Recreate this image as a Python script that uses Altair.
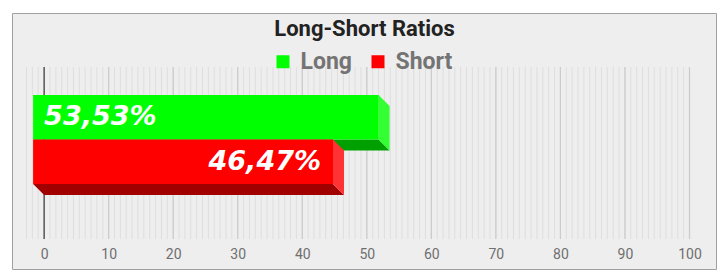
import altair as alt
import pandas as pd

# ---- data ----
series = ["Long", "Short"]
values = [53.53, 46.47]
value_labels = ["53,53%", "46,47%"]
front_colors = ["#00ff00", "#ff0000"]
side_colors = ["#33ff33", "#ff3333"]
bottom_colors = ["#00a000", "#a00000"]
tick_values = [0, 10, 20, 30, 40, 50, 60, 70, 80, 90, 100]
chart_title = "Long-Short Ratios"

# ---- layout ----
PLOT_W, PLOT_H = 663, 172
PAD_L, PAD_T = 26.5, 67
X_MIN, X_MAX = -30 / 11, 100
px_per_unit = PLOT_W / (X_MAX - X_MIN)
DEPTH = 11          # 3D depth in px
SLOT = 44.5         # bar thickness in px
TOP_GAP = 39        # px above first bar (back plane)
dxu = DEPTH / px_per_unit
dyu = DEPTH / SLOT
y_domain = [-TOP_GAP / SLOT, (PLOT_H - TOP_GAP) / SLOT]

# back-wall stripe pattern: 11 stripes per 10 units
stripe_positions = [k * 10 / 11 for k in range(-3, 111)]

xscale = alt.Scale(domain=[X_MIN, X_MAX], nice=False, zero=False)
yscale = alt.Scale(domain=y_domain, reverse=True, nice=False, zero=False)
x_axis = alt.Axis(values=tick_values, title=None, grid=False, domain=False,
                  ticks=False, tickSize=0, labelPadding=19.5, labelFlush=False,
                  labelBaseline="alphabetic", labelFont="Roboto",
                  labelFontSize=14, labelColor="#6e6e6e", zindex=1, format="d")

front_rows, face_rows, label_rows = [], [], []
for i, (s, v) in enumerate(zip(series, values)):
    top_b, bot_b = i, i + 1
    top_f, bot_f = i - dyu, i + 1 - dyu
    x0b, x1b = 0, v
    x0f, x1f = -dxu, v - dxu
    front_rows.append(dict(series=s, x=x0f, x2=x1f, y=top_f, y2=bot_f))
    face_rows += [
        dict(series=s, face="side", x=x1f, y=top_f, y2=bot_f),
        dict(series=s, face="side", x=x1b, y=top_b, y2=bot_b),
        dict(series=s, face="bottom", x=x0f, y=bot_f, y2=bot_f),
        dict(series=s, face="bottom", x=x0b, y=bot_f, y2=bot_b),
        dict(series=s, face="bottom", x=x1f, y=bot_f, y2=bot_b),
        dict(series=s, face="bottom", x=x1b, y=bot_b, y2=bot_b),
    ]
    label_rows.append(dict(series=s, text=value_labels[i], xs=x0f, xe=x1f,
                           yc=(top_f + bot_f) / 2))

front_df = pd.DataFrame(front_rows)
face_df = pd.DataFrame(face_rows)
label_df = pd.DataFrame(label_rows)

panel = alt.Chart(pd.DataFrame({"p": [0]})).mark_rect(
    fill="#eeeeee", stroke="#a0a0a0", strokeWidth=1
).encode(
    x=alt.value(12.5 - PAD_L), x2=alt.value(716.5 - PAD_L),
    y=alt.value(13.5 - PAD_T), y2=alt.value(269.5 - PAD_T),
)

stripes = alt.Chart(pd.DataFrame({"v": stripe_positions})).mark_rule(
    color="#dedede", strokeWidth=1
).encode(x=alt.X("v:Q", scale=xscale, axis=x_axis))

majors = alt.Chart(pd.DataFrame({"v": tick_values[1:]})).mark_rule(
    color="#cbcbcb", strokeWidth=1.2
).encode(x=alt.X("v:Q", scale=xscale, axis=x_axis))

zero_line = alt.Chart(pd.DataFrame({"v": tick_values[:1]})).mark_rule(
    color="#111111", strokeWidth=1
).encode(x=alt.X("v:Q", scale=xscale, axis=x_axis))

legend = alt.Legend(
    orient="none", legendX=245, legendY=-17, direction="horizontal", title=None,
    symbolType="square", symbolSize=169, symbolStrokeWidth=0, symbolOpacity=1,
    labelFont="Roboto", labelFontSize=23, labelFontWeight="bold",
    labelColor="#747474", labelOffset=6, columnPadding=14, padding=0,
)


def face_layer(s, face, color):
    return alt.Chart(face_df).transform_filter(
        (alt.datum.series == s) & (alt.datum.face == face)
    ).mark_area(orient="vertical", interpolate="linear", color=color).encode(
        x=alt.X("x:Q", scale=xscale, axis=x_axis),
        y=alt.Y("y:Q", scale=yscale, axis=None, stack=None),
        y2=alt.Y2("y2:Q"),
    )


layers = [panel, stripes, majors, zero_line]
for i, s in enumerate(series):
    front = alt.Chart(front_df).transform_filter(alt.datum.series == s).mark_rect().encode(
        x=alt.X("x:Q", scale=xscale, axis=x_axis),
        x2="x2:Q",
        y=alt.Y("y:Q", scale=yscale, axis=None),
        y2="y2:Q",
        color=alt.Color("series:N", scale=alt.Scale(domain=series, range=front_colors),
                        legend=legend),
    )
    layers += [face_layer(s, "bottom", bottom_colors[i]),
               face_layer(s, "side", side_colors[i]),
               front]

text_style = dict(baseline="middle", font="DejaVu Sans", fontSize=27,
                  fontWeight="bold", fontStyle="italic", color="white")
label_start = alt.Chart(label_df).transform_filter(alt.datum.series == series[0]).mark_text(
    align="left", dx=11, **text_style
).encode(
    x=alt.X("xs:Q", scale=xscale, axis=x_axis),
    y=alt.Y("yc:Q", scale=yscale, axis=None),
    text="text:N",
)
label_end = alt.Chart(label_df).transform_filter(alt.datum.series == series[1]).mark_text(
    align="right", dx=-12, **text_style
).encode(
    x=alt.X("xe:Q", scale=xscale, axis=x_axis),
    y=alt.Y("yc:Q", scale=yscale, axis=None),
    text="text:N",
)
layers += [label_start, label_end]

chart = alt.layer(*layers).properties(
    width=PLOT_W, height=PLOT_H,
    title=alt.TitleParams(chart_title, font="Roboto", fontSize=22, fontWeight="bold",
                          color="#222222", anchor="middle", frame="group",
                          baseline="alphabetic", offset=-45, dx=6.5),
    padding={"left": PAD_L, "top": PAD_T, "right": 722 - PAD_L - PLOT_W,
             "bottom": 278 - PAD_T - PLOT_H},
    autosize="none",
    background="white",
).configure_view(strokeWidth=0)

chart.save("out.html", embed_options={"renderer": "svg", "actions": False})
